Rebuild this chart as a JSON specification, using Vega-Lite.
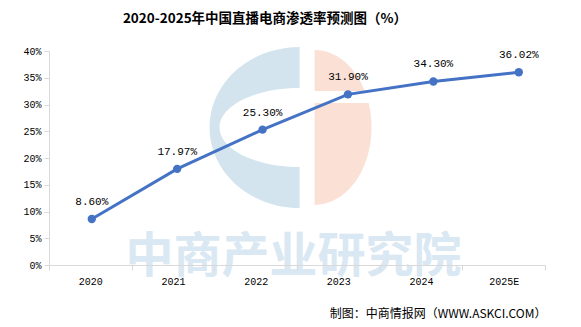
{
  "$schema": "https://vega.github.io/schema/vega-lite/v6.json",
  "width": 496,
  "height": 214,
  "autosize": {"type": "none"},
  "padding": {"left": 49, "top": 51, "right": 36, "bottom": 62},
  "background": "white",
  "title": {
    "text": "2020-2025年中国直播电商渗透率预测图（%）",
    "font": "Noto Sans CJK SC",
    "fontSize": 13.5,
    "fontWeight": "bold",
    "color": "#000000",
    "anchor": "middle",
    "frame": "group",
    "dx": -32,
    "offset": 21
  },
  "config": {
    "view": {"stroke": null},
    "axisY": {
      "title": null,
      "grid": false,
      "labelOverlap": false,
      "domainColor": "#d9d9d9",
      "tickColor": "#d9d9d9",
      "tickSize": 5,
      "labelPadding": 3,
      "labelFont": "Liberation Mono",
      "labelFontSize": 10,
      "labelColor": "#000000",
      "zindex": 1
    }
  },
  "data": {
    "values": [
      {"year": "2020", "value": 0.086},
      {"year": "2021", "value": 0.1797},
      {"year": "2022", "value": 0.253},
      {"year": "2023", "value": 0.319},
      {"year": "2024", "value": 0.343},
      {"year": "2025E", "value": 0.3602}
    ]
  },
  "layer": [
    {
      "mark": {"type": "point", "opacity": 0},
      "encoding": {
        "x": {
          "field": "year",
          "type": "ordinal",
          "scale": {"type": "band", "paddingInner": 0, "paddingOuter": 0},
          "axis": {
            "title": "制图：中商情报网（WWW.ASKCI.COM）",
            "titleFont": "Noto Sans CJK SC",
            "titleFontSize": 12,
            "titleFontWeight": "normal",
            "titleColor": "#000000",
            "titleX": 497,
            "titleY": 48,
            "titleAlign": "right",
            "titleBaseline": "middle",
            "labelAngle": 0,
            "labelFont": "Liberation Mono",
            "labelFontSize": 10,
            "labelFontWeight": "normal",
            "labelColor": "#000000",
            "labelPadding": 6,
            "labelOverlap": false,
            "tickBand": "extent",
            "domainColor": "#d9d9d9",
            "tickColor": "#d9d9d9",
            "tickSize": 5,
            "zindex": 1
          }
        },
        "y": {
          "field": "value",
          "type": "quantitative",
          "title": null,
          "scale": {"domain": [0, 0.4]},
          "axis": {"values": [0, 0.05, 0.1, 0.15, 0.2, 0.25, 0.3, 0.35, 0.4], "format": ".0%", "title": null}
        }
      }
    },
    {
      "layer": [
        {
          "data": {"values": [{}]},
          "mark": {
            "type": "point",
            "shape": "M37,-80 A90,80.5 0 0 0 37,81 L37,40 A80,39.5 0 0 1 37,-39 Z",
            "size": 4,
            "filled": true,
            "color": "#d3e4ef",
            "opacity": 1,
            "strokeWidth": 0
          },
          "encoding": {
            "x": {"datum": "2022", "type": "ordinal", "axis": null},
            "y": {"datum": 0.258, "type": "quantitative", "axis": {"values": [0, 0.05, 0.1, 0.15, 0.2, 0.25, 0.3, 0.35, 0.4], "format": ".0%", "title": null}}
          }
        },
        {
          "data": {"values": [{}]},
          "mark": {
            "type": "point",
            "shape": "M52,-77 A57,77.5 0 0 1 102.3,-36 L52,-36 Z M52,-24 L106.1,-24 A57,77.5 0 0 1 52,78 Z",
            "size": 4,
            "filled": true,
            "color": "#fbe1d5",
            "opacity": 1,
            "strokeWidth": 0
          },
          "encoding": {
            "x": {"datum": "2022", "type": "ordinal", "axis": null},
            "y": {"datum": 0.258, "type": "quantitative", "axis": {"values": [0, 0.05, 0.1, 0.15, 0.2, 0.25, 0.3, 0.35, 0.4], "format": ".0%", "title": null}}
          }
        },
        {
          "data": {"values": [{}]},
          "mark": {
            "type": "text",
            "text": "中商产业研究院",
            "font": "Noto Sans CJK SC",
            "fontSize": 48,
            "fontWeight": "bold",
            "color": "#d9e8f2",
            "align": "center",
            "baseline": "middle",
            "dx": 31
          },
          "encoding": {
            "x": {"datum": "2022", "type": "ordinal", "axis": null},
            "y": {"datum": 0.013, "type": "quantitative", "axis": {"values": [0, 0.05, 0.1, 0.15, 0.2, 0.25, 0.3, 0.35, 0.4], "format": ".0%", "title": null}}
          }
        },
        {
          "mark": {"type": "line", "color": "#4472c4", "strokeWidth": 3},
          "encoding": {
            "x": {"field": "year", "type": "ordinal", "scale": {"type": "point", "padding": 0.404, "align": 0.62}, "axis": null},
            "y": {"field": "value", "type": "quantitative", "title": null, "axis": {"values": [0, 0.05, 0.1, 0.15, 0.2, 0.25, 0.3, 0.35, 0.4], "format": ".0%", "title": null}}
          }
        },
        {
          "mark": {"type": "point", "filled": true, "color": "#4472c4", "size": 70, "opacity": 1},
          "encoding": {
            "x": {"field": "year", "type": "ordinal", "scale": {"type": "point", "padding": 0.404, "align": 0.62}, "axis": null},
            "y": {"field": "value", "type": "quantitative", "title": null, "axis": {"values": [0, 0.05, 0.1, 0.15, 0.2, 0.25, 0.3, 0.35, 0.4], "format": ".0%", "title": null}}
          }
        },
        {
          "mark": {"type": "text", "dy": -17, "font": "Liberation Mono", "fontSize": 11, "color": "#000000", "baseline": "middle", "align": "center"},
          "encoding": {
            "x": {"field": "year", "type": "ordinal", "scale": {"type": "point", "padding": 0.404, "align": 0.62}, "axis": null},
            "y": {"field": "value", "type": "quantitative", "title": null, "axis": {"values": [0, 0.05, 0.1, 0.15, 0.2, 0.25, 0.3, 0.35, 0.4], "format": ".0%", "title": null}},
            "text": {"field": "value", "format": ".2%"}
          }
        }
      ]
    }
  ],
  "resolve": {"scale": {"x": "independent"}, "axis": {"x": "independent"}}
}
